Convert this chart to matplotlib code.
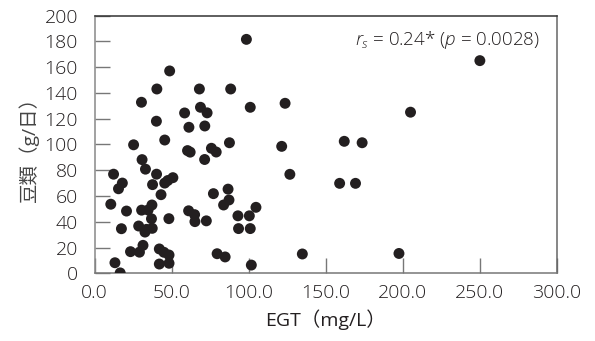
import matplotlib
matplotlib.use("Agg")
import matplotlib.pyplot as plt

plt.rcParams['font.family'] = ['Open Sans', 'Noto Sans CJK JP', 'DejaVu Sans']
plt.rcParams['font.weight'] = 'light'
plt.rcParams['mathtext.fontset'] = 'custom'
plt.rcParams['mathtext.it'] = 'Open Sans:italic:light'
plt.rcParams['mathtext.rm'] = 'Open Sans:light'

# EGT (mg/L) vs 豆類 (g/日)
egt = [98.5, 250, 48.7, 40.4, 68, 88.3, 30.4, 123.6, 68.7, 101,
       58.4, 73, 205, 40.1, 61.2, 71.5, 45.5, 87.5, 25.3, 162,
       173.6, 121.4, 60.3, 62, 75.8, 78.9, 71.4, 30.8, 33, 12.3,
       40.2, 126.7, 18, 15.5, 37.6, 45.5, 47.5, 50.8, 159, 169.3,
       43.1, 77.1, 86.6, 87.2, 83.7, 104.7, 10.5, 20.7, 30.5, 34.7,
       37.2, 36.9, 37.4, 33.7, 28.6, 32.7, 48.2, 61, 64.9, 65.1,
       72.5, 93, 100.4, 93.4, 101, 17.4, 23.3, 29.1, 31.4, 42,
       45, 48.3, 42, 48.3, 13.2, 16.6, 79.5, 84.7, 101.7, 134.8,
       197.5]
beans = [181.5, 165, 157, 143, 143, 143, 132.7, 131.9, 128.8, 128.8,
         124.4, 124.5, 125, 118, 113.3, 114.3, 103.4, 101.3, 99.7, 102.4,
         101.3, 98.5, 95.2, 94, 97, 94.1, 88.3, 88.2, 80.8, 76.9,
         76.9, 76.8, 70, 65.6, 68.8, 70, 72, 74.2, 69.8, 69.8,
         61, 61.8, 65.3, 56.9, 53, 51.2, 53.6, 48.3, 49, 49.1,
         53, 42.3, 34.9, 34.1, 36.7, 32, 42.4, 48.5, 45.5, 40.1,
         40.7, 44.6, 44.6, 34.7, 34.7, 34.6, 16.8, 16.4, 21.7, 18.9,
         16.3, 14.2, 7.2, 7.8, 8.2, 0.3, 15.2, 12.7, 6.4, 15,
         15.4]

x_ticks = [0, 50, 100, 150, 200, 250, 300]
y_ticks = list(range(0, 201, 20))

text_color = "#231f20"

fig = plt.figure(figsize=(5.95, 3.41), dpi=100)
ax = fig.add_axes([0.159, 0.1985, 0.777, 0.756])

ax.scatter(egt, beans, s=62, color="#231f20", edgecolors="none", zorder=3)

ax.set_xlim(0, 300)
ax.set_ylim(0, 200)
ax.set_xticks(x_ticks)
ax.set_xticklabels([f"{v:.1f}" for v in x_ticks])
ax.set_yticks(y_ticks)

ax.tick_params(direction="in", length=11, width=1, color="#777777",
               labelsize=14, labelcolor=text_color)
ax.tick_params(axis="y", pad=12)
ax.tick_params(axis="x", pad=8)

ax.spines["left"].set_color("#888888")
ax.spines["bottom"].set_color("#777777")
ax.spines["top"].set_color("#333333")
ax.spines["right"].set_color("#666666")
for s in ax.spines.values():
    s.set_linewidth(1.1)

ax.set_xlabel("EGT（mg/L）", fontsize=14, color=text_color, labelpad=5)
ax.set_ylabel("豆類（g/日）", fontsize=14, color="#444444", labelpad=4)

ax.text(0.963, 0.905, r"$r_s$ = 0.24* ($p$ = 0.0028)", transform=ax.transAxes,
        ha="right", va="center", fontsize=13.5, color=text_color)

fig.savefig("out.png", dpi=100)
